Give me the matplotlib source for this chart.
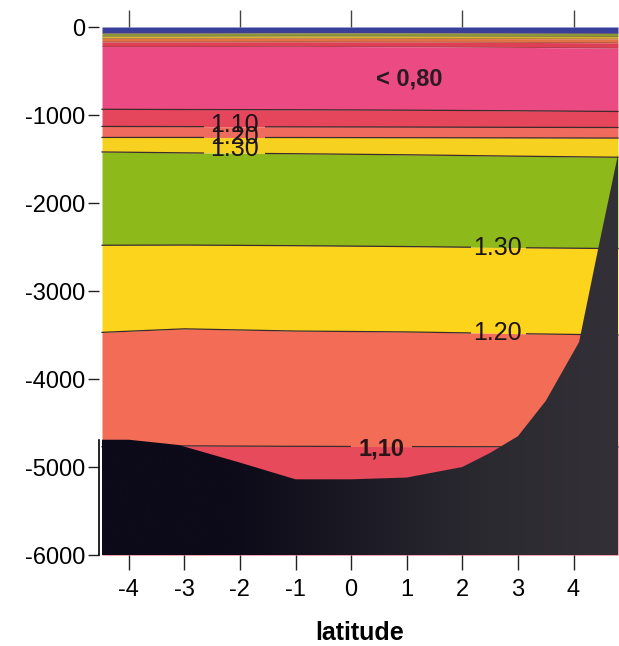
import numpy as np
import matplotlib
matplotlib.use("Agg")
import matplotlib.pyplot as plt
from matplotlib.patches import Polygon, Rectangle
from matplotlib.colors import LinearSegmentedColormap

plt.rcParams['font.family'] = ['Liberation Sans', 'DejaVu Sans']
plt.rcParams['axes.unicode_minus'] = False

# Latitude stations where the layer interfaces are given
lat = [-4.48, -3.0, -1.0, 1.0, 3.0, 4.8]

# Interface depths (m), top to bottom
surf_0 = [0, 0, 0, 0, 0, 0]
surf_1 = [-70, -70, -68, -68, -70, -72]
surf_2 = [-105, -105, -103, -104, -106, -108]
surf_3 = [-130, -130, -128, -130, -132, -135]
surf_4 = [-170, -170, -168, -170, -175, -180]
surf_5 = [-222, -222, -220, -225, -232, -240]
iso_080 = [-935, -938, -940, -945, -952, -960]
iso_110_up = [-1130, -1132, -1135, -1137, -1140, -1142]
iso_120_up = [-1255, -1255, -1256, -1258, -1260, -1262]
iso_130_up = [-1420, -1430, -1440, -1452, -1468, -1480]
iso_130_low = [-2480, -2478, -2485, -2495, -2508, -2518]
iso_120_low = [-3470, -3430, -3455, -3465, -3485, -3500]
iso_110_low = [-4770, -4760, -4765, -4768, -4770, -4772]
floor = [-6000] * 6

interfaces = [surf_0, surf_1, surf_2, surf_3, surf_4, surf_5, iso_080,
              iso_110_up, iso_120_up, iso_130_up, iso_130_low, iso_120_low,
              iso_110_low, floor]
band_colors = ['#3b3f9c', '#8c9a35', '#d9b232', '#e27345', '#de3f55',
               '#ec4a82', '#e5465c', '#ef6b5e', '#f6d11f', '#8db91b',
               '#fbd41b', '#f26c56', '#e74a5a']

# Sea floor profile
bottom_lat = [-4.48, -4.0, -3.1, -2.0, -1.0, 0.0, 1.0, 2.0, 2.5, 3.0, 3.5,
              4.1, 4.45, 4.8]
bottom_depth = [-4690, -4690, -4750, -4950, -5140, -5140, -5120, -5000,
                -4840, -4650, -4250, -3580, -2500, -1450]

fig = plt.figure(figsize=(6.19, 6.46), dpi=100)
ax = fig.add_axes([102 / 619, 1 - 555 / 646, 516 / 619, 528 / 646])
ax.set_xlim(-4.48, 4.8)
ax.set_ylim(-6000, 0)

for top_s, bot_s, col in zip(interfaces[:-1], interfaces[1:], band_colors):
    ax.fill_between(lat, bot_s, top_s, color=col, lw=0, zorder=1)

# faint surface interfaces
for s in [surf_1, surf_2, surf_3, surf_4, surf_5]:
    ax.plot(lat, s, color='#6a3b40', lw=0.5, alpha=0.5, zorder=2)

# labelled isolines, broken where the labels sit
def isoline(y, gaps):
    edges = [-10] + [v for g in gaps for v in g] + [10]
    for x0, x1 in zip(edges[::2], edges[1::2]):
        ln, = ax.plot(lat, y, color='#3d2a2a', lw=0.9, zorder=3)
        clip = Rectangle((x0, -7000), x1 - x0, 8000, transform=ax.transData)
        ln.set_clip_path(clip)

isoline(iso_080, [])
isoline(iso_110_up, [(-2.65, -1.55)])
isoline(iso_120_up, [(-2.65, -1.55)])
isoline(iso_130_up, [(-2.65, -1.55)])
isoline(iso_130_low, [(2.15, 3.15)])
isoline(iso_120_low, [(2.15, 3.15)])
isoline(iso_110_low, [(0.0, 1.1)])

# sea floor with shading
poly_xy = list(zip(bottom_lat, bottom_depth)) + [(4.8, -6000), (-4.48, -6000)]
ground = Polygon(poly_xy, closed=True, facecolor='none', edgecolor='none',
                 zorder=4)
ax.add_patch(ground)
shade = LinearSegmentedColormap.from_list(
    'ground', ['#0d0a19', '#0d0a19', '#1c1a24', '#2c2a31', '#333137'])
grad = np.linspace(0, 1, 256).reshape(1, -1)
im = ax.imshow(grad, cmap=shade, extent=(-4.48, 4.8, -6000, -1400),
               aspect='auto', zorder=4, interpolation='bilinear')
im.set_clip_path(ground)
ax.set_xlim(-4.48, 4.8)
ax.set_ylim(-6000, 0)

# labels
txt = '#1b1418'
ax.text(1.04, -590, '< 0,80', ha='center', va='center', fontsize=17,
        fontweight='bold', color='#2a1a22', zorder=5)
ax.text(-2.1, -1110, '1.10', ha='center', va='center', fontsize=18,
        color=txt, zorder=5)
ax.text(-2.1, -1245, '1.20', ha='center', va='center', fontsize=18,
        color=txt, zorder=5)
ax.text(-2.1, -1390, '1.30', ha='center', va='center', fontsize=18,
        color=txt, zorder=5)
ax.text(2.64, -2510, '1.30', ha='center', va='center', fontsize=18,
        color=txt, zorder=5)
ax.text(2.64, -3480, '1.20', ha='center', va='center', fontsize=18,
        color=txt, zorder=5)
ax.text(0.54, -4800, '1,10', ha='center', va='center', fontsize=17,
        fontweight='bold', color='#2a1418', zorder=5)

# axes furniture
for s in ['top', 'right', 'bottom']:
    ax.spines[s].set_visible(False)
ax.spines['left'].set_bounds(-6000, -4690)
ax.spines['left'].set_position(('outward', 2))
ax.spines['left'].set_linewidth(1.2)

ax.set_xticks(range(-4, 5))
ax.set_yticks(range(-6000, 1, 1000))
ax.tick_params(axis='x', direction='out', length=11, width=1,
               labelsize=17, pad=6, color='#222222')
ax.tick_params(axis='y', direction='out', length=8, width=1,
               labelsize=17, pad=2, color='#222222')
top = ax.secondary_xaxis('top')
top.set_xticks([-4, -2, 0, 2, 4])
top.set_xticklabels([])
top.tick_params(direction='out', length=12, width=1, color='#444444')
top.spines['top'].set_visible(False)

fig.text(360 / 619, 1 - 633 / 646, 'latitude', ha='center', va='center',
         fontsize=18, fontweight='bold')

fig.savefig('out.png', dpi=100)
